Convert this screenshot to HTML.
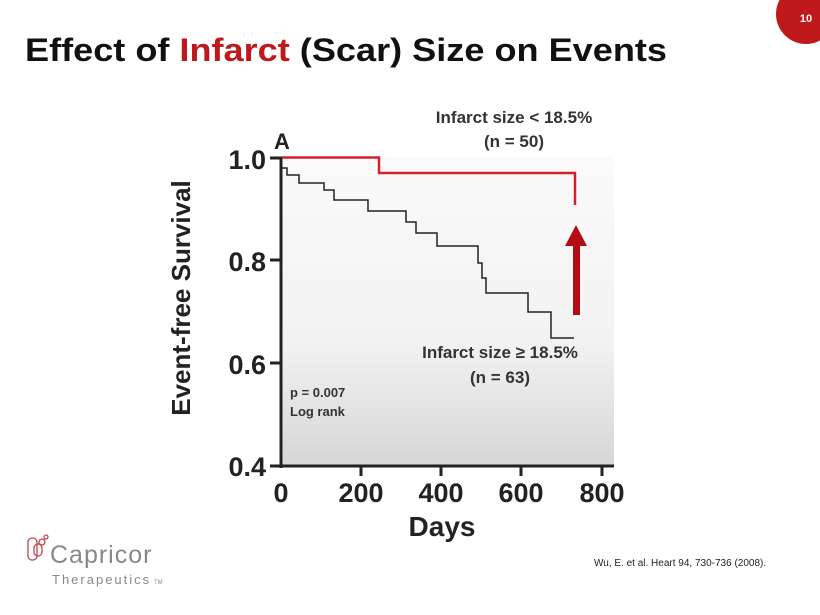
<!DOCTYPE html>
<html><head><meta charset="utf-8"><style>
body{margin:0;width:820px;height:615px;background:#fff;overflow:hidden;position:relative;font-family:"Liberation Sans",sans-serif}
</style></head><body>
<svg width="820" height="615" style="position:absolute;left:0;top:0">
<defs><linearGradient id="g" x1="0" y1="0" x2="0" y2="1"><stop offset="0" stop-color="#fafafa"/><stop offset="0.6" stop-color="#f2f2f2"/><stop offset="1" stop-color="#d6d6d6"/></linearGradient></defs>
<circle cx="806" cy="14" r="30" fill="#c0191b"/>
<text x="806" y="22" font-size="11" font-weight="bold" fill="#fff" text-anchor="middle">10</text>
<text x="25" y="61" font-size="32" font-weight="bold" fill="#111" textLength="642" lengthAdjust="spacingAndGlyphs">Effect of <tspan fill="#c0191b">Infarct</tspan> (Scar) Size on Events</text>
<rect x="281" y="157" width="333" height="309" fill="url(#g)"/>
<g stroke="#222" stroke-width="3" fill="none">
<line x1="281" y1="157" x2="281" y2="468"/>
<line x1="270" y1="466" x2="614" y2="466"/>
<line x1="270" y1="158" x2="281" y2="158"/><line x1="270" y1="260" x2="281" y2="260"/><line x1="270" y1="363" x2="281" y2="363"/>
<line x1="361" y1="466" x2="361" y2="476"/><line x1="441" y1="466" x2="441" y2="476"/><line x1="521" y1="466" x2="521" y2="476"/><line x1="602" y1="466" x2="602" y2="476"/>
</g>
<g font-weight="bold" font-size="27" fill="#222" text-anchor="end">
<text x="266" y="169">1.0</text><text x="266" y="271">0.8</text><text x="266" y="374">0.6</text><text x="266" y="476">0.4</text>
</g>
<g font-weight="bold" font-size="27" fill="#222" text-anchor="middle">
<text x="281" y="502">0</text><text x="361" y="502">200</text><text x="441" y="502">400</text><text x="521" y="502">600</text><text x="602" y="502">800</text>
<text x="442" y="536" font-size="28">Days</text>
<text transform="translate(190,298) rotate(-90)" font-size="26">Event-free Survival</text>
</g>
<text x="274" y="149" font-size="22" font-weight="bold" fill="#222">A</text>
<polyline fill="none" stroke="#d3212a" stroke-width="2.5" points="281,157.5 379,157.5 379,173 575,173 575,205"/>
<polyline fill="none" stroke="#222" stroke-width="1.5" points="281,157 281,168 287,168 287,175 299,175 299,183 324,183 324,190 334,190 334,200 368,200 368,211 406,211 406,222 416,222 416,233 437,233 437,246 478,246 478,263 482,263 482,278 486,278 486,293 528,293 528,312 551,312 551,338 574,338"/>
<rect x="573" y="245" width="7" height="70" fill="#b00e14"/>
<polygon points="565,246 587,246 576,225" fill="#b00e14"/>
<g font-weight="bold" fill="#333" text-anchor="middle" font-size="17">
<text x="514" y="123">Infarct size &lt; 18.5%</text><text x="514" y="147">(n = 50)</text>
<text x="500" y="358">Infarct size ≥ 18.5%</text><text x="500" y="383">(n = 63)</text>
</g>
<g font-weight="bold" fill="#333" font-size="13"><text x="290" y="397">p = 0.007</text><text x="290" y="416">Log rank</text></g>
<text x="594" y="566" font-size="10" fill="#222">Wu, E. et al. Heart 94, 730-736 (2008).</text>
<g fill="none" stroke="#c0474f" stroke-width="1.3">
<rect x="28" y="538" width="9" height="22" rx="4"/><rect x="34" y="544" width="8" height="12" rx="4"/><circle cx="42" cy="542" r="3"/><circle cx="46" cy="537" r="2"/>
</g>
<text x="50" y="563" font-size="25" fill="#888" letter-spacing="1">Capricor</text>
<text x="52" y="584" font-size="13" fill="#888" letter-spacing="2">Therapeutics</text>
<text x="154" y="584" font-size="6" fill="#888">TM</text>
</svg>
</body></html>
